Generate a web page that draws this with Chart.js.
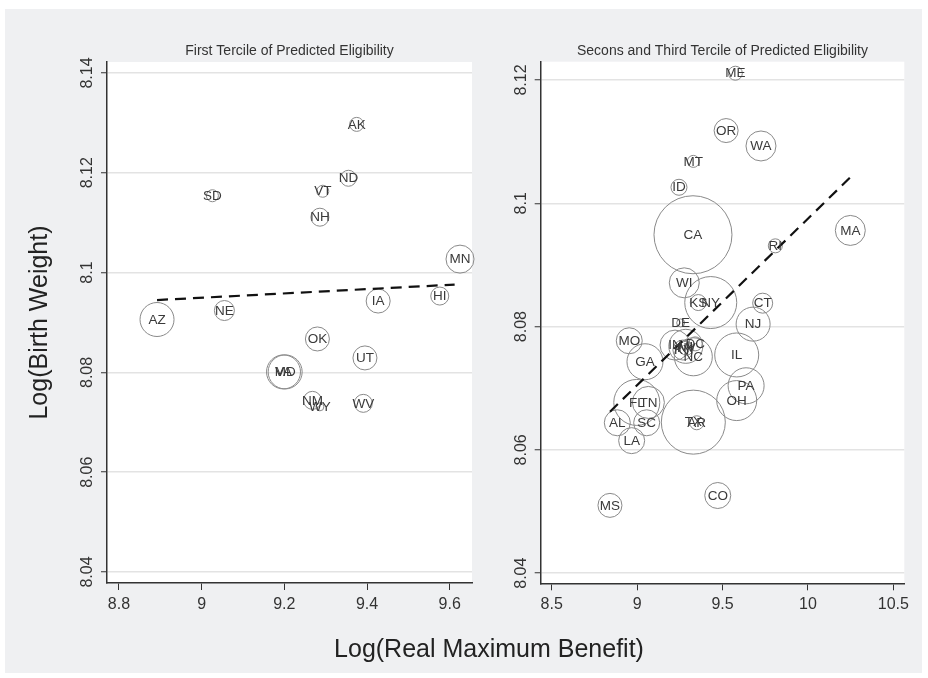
<!DOCTYPE html>
<html>
<head>
<meta charset="utf-8">
<script src="https://cdn.jsdelivr.net/npm/chart.js@4/dist/chart.umd.min.js"></script>
<style>
  html, body { margin: 0; padding: 0; background: #ffffff; }
  #frame { position: relative; width: 928px; height: 678px; overflow: hidden; background: #ffffff; }
  #panel { position: absolute; left: 5px; top: 9px; right: 6px; bottom: 5px; background: #eff0f2; }
  canvas { position: absolute; top: 0; }
  #leftChart { left: 0; }
  #rightChart { left: 480px; }
  #xtitle {
    position: absolute; left: 289px; width: 400px; top: 633px;
    text-align: center; font-family: "Liberation Sans", Arial, sans-serif;
    font-size: 25px; line-height: 30px; color: #222;
  }
</style>
</head>
<body>
<div id="frame">
  <div id="panel"></div>
  <canvas id="leftChart" width="480" height="678"></canvas>
  <canvas id="rightChart" width="448" height="678"></canvas>
  <div id="xtitle">Log(Real Maximum Benefit)</div>
</div>
<script>
// ---- First tercile states ----
const leftStates  = ['AZ', 'NE', 'SD', 'AK', 'ND', 'VT', 'NH', 'MN', 'HI', 'IA', 'OK', 'UT', 'VA', 'MD', 'NM', 'WY', 'WV'];
const leftBenefit = [8.892, 9.055, 9.026, 9.375, 9.355, 9.293, 9.286, 9.625, 9.576, 9.427, 9.280, 9.395, 9.198, 9.202, 9.268, 9.286, 9.391];
const leftLogBW   = [8.0906, 8.0924, 8.1154, 8.1297, 8.1189, 8.1163, 8.1111, 8.1027, 8.0953, 8.0943, 8.0867, 8.0829, 8.0801, 8.0801, 8.0744, 8.0731, 8.0738];
const leftWeight  = [17, 10, 6, 7, 8, 6, 9, 14, 9, 12, 12, 12, 17, 17, 9, 4, 9];
const leftFitX    = [8.892, 9.612];
const leftFitY    = [8.0945, 8.0976];
const leftXTicks  = [8.8, 9, 9.2, 9.4, 9.6];
const leftYTicks  = [8.04, 8.06, 8.08, 8.1, 8.12, 8.14];

// ---- Second and third tercile states ----
const rightStates  = ['ME', 'OR', 'WA', 'MT', 'ID', 'CA', 'RI', 'MA', 'WI', 'KS', 'NY', 'CT', 'NJ', 'DE', 'MO',
                      'IN', 'MI', 'KY', 'NV', 'DC', 'NC', 'IL', 'GA', 'PA', 'OH', 'FL', 'TN', 'AL', 'SC', 'LA',
                      'TX', 'AR', 'MS', 'CO'];
const rightBenefit = [9.575, 9.521, 9.725, 9.329, 9.245, 9.327, 9.809, 10.248, 9.276, 9.358, 9.431, 9.735, 9.679, 9.255, 8.954,
                      9.222, 9.285, 9.268, 9.288, 9.340, 9.329, 9.583, 9.046, 9.638, 9.583, 8.998, 9.066, 8.884, 9.056, 8.968,
                      9.329, 9.349, 8.841, 9.472];
const rightLogBW   = [8.1211, 8.1118, 8.1093, 8.1068, 8.1026, 8.0949, 8.0931, 8.0956, 8.0871, 8.0839, 8.0839, 8.0838, 8.0804, 8.0806, 8.0777,
                      8.0770, 8.0768, 8.0762, 8.0765, 8.0772, 8.0751, 8.0754, 8.0743, 8.0704, 8.0680, 8.0677, 8.0677, 8.0644, 8.0644, 8.0615,
                      8.0645, 8.0644, 8.0510, 8.0526];
const rightWeight  = [7, 12, 15, 6, 8, 39, 7, 15, 15, 8, 26, 10, 17, 4, 13,
                      15, 17, 10, 7, 7, 19, 22, 18, 18, 20, 23, 16, 13, 13, 13,
                      32, 7, 12, 13];
const rightFitX    = [8.841, 10.251];
const rightFitY    = [8.0662, 8.1043];
const rightXTicks  = [8.5, 9, 9.5, 10, 10.5];
const rightYTicks  = [8.04, 8.06, 8.08, 8.1, 8.12];

const FONT = '"Liberation Sans", Arial, sans-serif';

// White plot region, panel title, rotated y tick labels and state labels
const panelDecor = {
  id: 'panelDecor',
  beforeDraw(chart) {
    const { ctx, chartArea: a } = chart;
    ctx.save();
    ctx.fillStyle = '#ffffff';
    ctx.fillRect(a.left, a.top, a.right - a.left, a.bottom - a.top);
    ctx.restore();
  },
  afterDraw(chart, args, opts) {
    const { ctx, chartArea: a } = chart;
    ctx.save();
    // title
    ctx.fillStyle = '#333';
    ctx.font = '14px ' + FONT;
    ctx.textAlign = 'center';
    ctx.textBaseline = 'middle';
    ctx.fillText(opts.title, (a.left + a.right) / 2, a.top - 11);
    // y tick labels, rotated
    const ys = chart.scales.y;
    ctx.font = '16px ' + FONT;
    ys.ticks.forEach(t => {
      ctx.save();
      ctx.translate(a.left - 19, ys.getPixelForValue(t.value));
      ctx.rotate(-Math.PI / 2);
      ctx.fillText(String(t.value), 0, 0);
      ctx.restore();
    });
    ctx.restore();
  },
  afterDatasetsDraw(chart, args, opts) {
    const { ctx } = chart;
    const meta = chart.getDatasetMeta(1);
    ctx.save();
    ctx.fillStyle = '#3a3a3a';
    ctx.font = '13.5px ' + FONT;
    ctx.textAlign = 'center';
    ctx.textBaseline = 'middle';
    meta.data.forEach((el, i) => {
      ctx.fillText(opts.labels[i], el.x, el.y + 0.5);
    });
    ctx.restore();
  }
};

function makePanel(id, cfg) {
  const pts = cfg.xs.map((x, i) => ({ x: x, y: cfg.ys[i], r: cfg.w[i] }));
  const fit = cfg.fitX.map((x, i) => ({ x: x, y: cfg.fitY[i] }));
  return new Chart(document.getElementById(id), {
    type: 'bubble',
    data: {
      datasets: [
        { type: 'line', data: fit, borderColor: '#111', borderWidth: 2.2, borderDash: [11, 7],
          pointRadius: 0, fill: false, order: 0, clip: false },
        { data: pts, borderColor: '#8a8a8a', borderWidth: 1, backgroundColor: 'rgba(0,0,0,0)',
          order: 1, clip: false }
      ]
    },
    options: {
      responsive: false,
      animation: false,
      events: [],
      layout: { padding: cfg.padding, autoPadding: false },
      plugins: {
        legend: { display: false },
        tooltip: { enabled: false },
        panelDecor: { title: cfg.title, labels: cfg.labels }
      },
      scales: {
        x: {
          type: 'linear', min: cfg.xMin, max: cfg.xMax,
          afterBuildTicks: s => { s.ticks = cfg.xTicks.map(v => ({ value: v })); },
          afterFit: s => { s.height = 30; s.paddingLeft = 0; s.paddingRight = 0; },
          grid: { drawOnChartArea: false, drawTicks: true, tickLength: 7, tickColor: '#333', tickWidth: 1 },
          border: { display: true, color: '#333', width: 1.5 },
          ticks: { font: { family: FONT, size: 16 }, color: '#333', padding: 5, maxRotation: 0, autoSkip: false,
                   callback: v => String(v) }
        },
        y: {
          type: 'linear', min: cfg.yMin, max: cfg.yMax,
          afterBuildTicks: s => { s.ticks = cfg.yTicks.map(v => ({ value: v })); },
          afterFit: s => { s.width = cfg.yWidth; s.paddingTop = 0; s.paddingBottom = 0; },
          grid: { color: '#e3e3e3', lineWidth: 1.5, drawTicks: true, tickLength: 6, tickColor: '#333', tickWidth: 1 },
          border: { display: true, color: '#333', width: 1.5 },
          ticks: { display: false },
          title: cfg.yTitle ? { display: true, text: cfg.yTitle, color: '#222',
                                font: { family: FONT, size: 25 }, padding: { top: 25, bottom: 0 } }
                            : { display: false }
        }
      }
    },
    plugins: [panelDecor]
  });
}

makePanel('leftChart', {
  xs: leftBenefit, ys: leftLogBW, w: leftWeight, labels: leftStates,
  fitX: leftFitX, fitY: leftFitY, xTicks: leftXTicks, yTicks: leftYTicks,
  xMin: 8.771, xMax: 9.654, yMin: 8.0378, yMax: 8.1422,
  yWidth: 107, padding: { left: 0, top: 62, right: 8, bottom: 65 },
  title: 'First Tercile of Predicted Eligibility', yTitle: 'Log(Birth Weight)'
});

makePanel('rightChart', {
  xs: rightBenefit, ys: rightLogBW, w: rightWeight, labels: rightStates,
  fitX: rightFitX, fitY: rightFitY, xTicks: rightXTicks, yTicks: rightYTicks,
  xMin: 8.4356, xMax: 10.564, yMin: 8.03836, yMax: 8.12297,
  yWidth: 60.7, padding: { left: 0, top: 61.7, right: 23.7, bottom: 64.7 },
  title: 'Secons and Third Tercile of Predicted Eligibility', yTitle: null
});
</script>
</body>
</html>
